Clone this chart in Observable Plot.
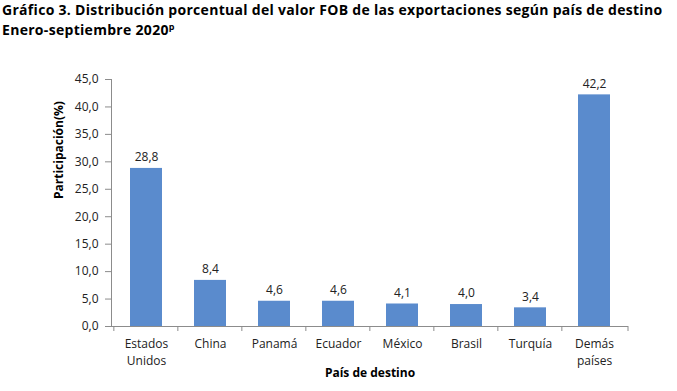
<!DOCTYPE html>
<html>
<head>
<meta charset="utf-8">
<script src="https://cdn.jsdelivr.net/npm/d3@7"></script>
<script src="https://cdn.jsdelivr.net/npm/@observablehq/plot@0.6"></script>
<style>
  html, body { margin: 0; padding: 0; background: #fff; }
  #title { font-family: "Open Sans", sans-serif; font-weight: bold; font-size: 14px; line-height: 19.5px; letter-spacing: 0.3px; color: #000; padding: 0 0 0 2px; height: 37px; box-sizing: border-box; white-space: nowrap; }
  #title sup { font-size: 9px; vertical-align: 5px; line-height: 0; }
  #chart svg { display: block; }
</style>
</head>
<body>
<div id="title">Gráfico 3. Distribución porcentual del valor FOB de las exportaciones según país de destino<br>Enero-septiembre 2020<sup>p</sup></div>
<div id="chart"></div>
<script>
const categories = ["Estados\nUnidos", "China", "Panamá", "Ecuador", "México", "Brasil", "Turquía", "Demás\npaíses"];
const values = [28.8, 8.4, 4.6, 4.6, 4.1, 4.0, 3.4, 42.2];
const yTicks = [0, 5, 10, 15, 20, 25, 30, 35, 40, 45];

const data = categories.map((c, i) => ({pais: c, valor: values[i]}));
const fmt = v => v.toFixed(1).replace(".", ",");

const width = 677, height = 354;
const marginLeft = 111, marginRight = 49, marginTop = 42, marginBottom = 65;
const step = (width - marginLeft - marginRight) / categories.length;
const font = "'Open Sans', sans-serif";
const axisColor = "#8c8c8c";

const plot = Plot.plot({
  width, height, marginLeft, marginRight, marginTop, marginBottom,
  style: {fontFamily: font, fontSize: "12px", color: "#222", background: "#fff"},
  x: {type: "band", domain: categories, paddingInner: 0.5, paddingOuter: 0.25, axis: null},
  y: {type: "linear", domain: [0, 45], axis: null},
  marks: [
    Plot.barY(data, {x: "pais", y: "valor", fill: "#5a8bcd"}),
    Plot.text(data, {x: "pais", y: "valor", text: d => fmt(d.valor), dy: -11, fontSize: 12, fill: "#222"}),
    Plot.frame({anchor: "left", stroke: axisColor}),
    Plot.axisY({ticks: yTicks, tickFormat: fmt, tickSize: 6, tickPadding: 7, stroke: axisColor, fill: "#222", fontSize: 12, label: null}),
    Plot.ruleY([0], {stroke: axisColor}),
    Plot.axisX({tickSize: 0, tickPadding: 10, fontSize: 12, fill: "#222", lineHeight: 1.38, label: null}),
    Plot.text(["País de destino"], {frameAnchor: "bottom", dy: 50, fontWeight: "bold", fontSize: 12, fill: "#000"}),
    Plot.text(["Participación(%)"], {frameAnchor: "left", dx: -52, dy: -4, rotate: -90, fontWeight: "bold", fontSize: 12, fill: "#000"})
  ]
});

// category separator ticks below the x axis
const svg = d3.select(plot);
const xs = plot.scale("x");
const y0 = plot.scale("y").apply(0);
const edges = categories.map(c => xs.apply(c) - step * 0.25);
edges.push(width - marginRight);
svg.append("g").selectAll("line").data(edges).join("line")
  .attr("x1", d => d).attr("x2", d => d)
  .attr("y1", y0).attr("y2", y0 + 5)
  .attr("stroke", axisColor);

document.getElementById("chart").appendChild(plot);
</script>
</body>
</html>
